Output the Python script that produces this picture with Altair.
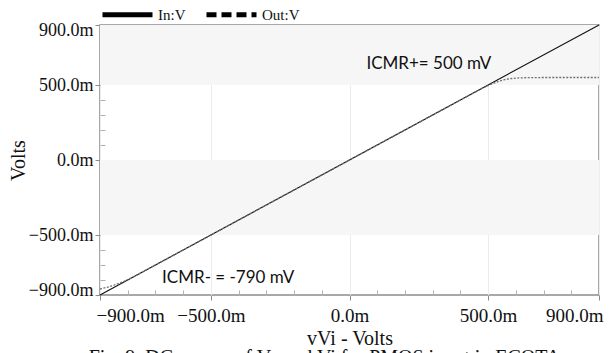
import altair as alt
import pandas as pd

# ---- data ----
in_x = [-900, -500, 0, 500, 900]
in_y = [-900, -500, 0, 500, 900]
out_x = [-900, -875, -850, -825, -800, -775, -500, 0, 450, 480, 500, 520, 540, 560, 580, 600, 625, 650, 700, 800, 900]
out_y = [-860, -849, -835, -818, -798, -775, -500, 0, 450, 479, 496, 512, 526, 536, 542, 546, 548, 549, 550, 550, 550]
series = ["In:V", "Out:V"]
band_lo = [500, -500]
band_hi = [900, 0]
major_ticks = [-900, -500, 0, 500, 900]
minor_ticks = [-800, -700, -600, -400, -300, -200, -100, 100, 200, 300, 400, 600, 700, 800]
annot_x = [61, -676]
annot_y = [640, -787]
annot_text = ["ICMR+= 500 mV", "ICMR- = -790 mV"]
caption = "Fig. 9. DC curves of Vo and Vi for PMOS input in ECOTA"

df_in = pd.DataFrame({"x": in_x, "y": in_y})
df_out = pd.DataFrame({"x": out_x, "y": out_y})
df_band = pd.DataFrame({"lo": band_lo, "hi": band_hi})
df_leg = pd.DataFrame({"s": series, "x": [None, None], "y": [None, None]})
df_txt = pd.DataFrame({"x": annot_x, "y": annot_y, "t": annot_text})

W, H = 499, 270
SERIF = "Liberation Serif"
AX = "#8c8c8c"

xs = alt.Scale(domain=[-900, 900], nice=False, zero=False)
ys = alt.Scale(domain=[-900, 900], nice=False, zero=False)

lab = "format(datum.value, '.1f') + 'm'"

x_main = alt.Axis(values=major_ticks, labelExpr=lab, title="vVi - Volts", orient="bottom",
                  labelFont=SERIF, labelFontSize=19, labelColor="#111", labelPadding=6,
                  labelFlush=True, labelFlushOffset=4,
                  titleFont=SERIF, titleFontSize=20, titleFontWeight="normal", titleColor="#111",
                  titlePadding=3, tickSize=5, tickColor=AX, tickWidth=1, domain=False,
                  grid=True, gridColor="#ececec", gridWidth=1)
y_main = alt.Axis(values=major_ticks, labelExpr=lab, title="Volts", orient="left",
                  labelFont=SERIF, labelFontSize=18, labelColor="#111", labelPadding=2,
                  labelFlush=True, labelFlushOffset=4,
                  titleFont=SERIF, titleFontSize=20, titleFontWeight="normal", titleColor="#111",
                  titlePadding=0, tickSize=5, tickColor=AX, tickWidth=1, domain=False, grid=False)
x_minor = alt.Axis(values=minor_ticks, orient="bottom", offset=-5, tickSize=5, tickColor="#b0b0b0",
                   labels=False, domain=False, grid=False, title=None)
y_minor = alt.Axis(values=minor_ticks, orient="left", offset=-5, tickSize=5, tickColor="#b0b0b0",
                   labels=False, domain=False, grid=False, title=None)

bands = alt.Chart(df_band).mark_rect(color="#f6f6f6").encode(
    x=alt.X(datum=-900, scale=xs, axis=x_minor),
    x2=alt.X2(datum=900),
    y=alt.Y("lo:Q", scale=ys, axis=y_minor),
    y2="hi:Q",
)

line_in = alt.Chart(df_in).mark_line(color="#111", strokeWidth=1.1).encode(
    x=alt.X("x:Q", scale=xs, axis=x_main),
    y=alt.Y("y:Q", scale=ys, axis=y_main),
)

line_out = alt.Chart(df_out).mark_line(color="#707070", strokeWidth=1.3, strokeDash=[2, 1.5]).encode(
    x=alt.X("x:Q", scale=xs, axis=None),
    y=alt.Y("y:Q", scale=ys, axis=None),
)

legend_layer = alt.Chart(df_leg).mark_line(color="black", strokeWidth=5).encode(
    x=alt.X("x:Q", scale=xs, axis=None),
    y=alt.Y("y:Q", scale=ys, axis=None),
    strokeDash=alt.StrokeDash(
        "s:N",
        scale=alt.Scale(domain=series, range=[[1, 0], [10, 5]]),
        legend=alt.Legend(orient="none", legendX=0, legendY=-38, direction="horizontal",
                          title=None, symbolType="stroke", symbolSize=2500, symbolStrokeWidth=5,
                          symbolStrokeColor="black", labelFont=SERIF, labelFontSize=15,
                          labelColor="#111", labelOffset=3, columnPadding=10, padding=0),
    ),
)

texts = alt.Chart(df_txt).mark_text(font="Lato", fontSize=17, align="left", baseline="middle",
                                    color="#111").encode(
    x=alt.X("x:Q", scale=xs, axis=None),
    y=alt.Y("y:Q", scale=ys, axis=None),
    text="t:N",
)

chart = alt.layer(bands, line_in, line_out, legend_layer, texts).resolve_axis(
    x="independent", y="independent"
).properties(
    width=W, height=H,
    autosize=alt.AutoSizeParams(type="none"),
    padding={"left": 92, "top": 17, "right": 7, "bottom": 70},
    title=alt.TitleParams(caption, orient="bottom", font=SERIF, fontSize=20, fontWeight="normal",
                          color="#111", anchor="middle", dx=-25, offset=0),
).configure_view(stroke=AX, strokeWidth=1.5)

chart.save("out.html", embed_options={"renderer": "svg", "actions": False})
